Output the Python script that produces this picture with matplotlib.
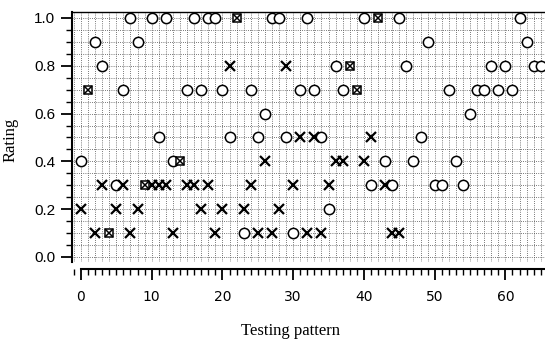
import numpy as np
import matplotlib
matplotlib.use("Agg")
import matplotlib.pyplot as plt
from matplotlib.ticker import MultipleLocator

# ratings: open circles (patterns 0-65), crosses (patterns 0-45)
circle_pattern = list(range(0, 66))
circle_rating = [0.4, 0.7, 0.9, 0.8, 0.1, 0.3, 0.7, 1.0, 0.9, 0.3,
                 1.0, 0.5, 1.0, 0.4, 0.4, 0.7, 1.0, 0.7, 1.0, 1.0,
                 0.7, 0.5, 1.0, 0.1, 0.7, 0.5, 0.6, 1.0, 1.0, 0.5,
                 0.1, 0.7, 1.0, 0.7, 0.5, 0.2, 0.8, 0.7, 0.8, 0.7,
                 1.0, 0.3, 1.0, 0.4, 0.3, 1.0, 0.8, 0.4, 0.5, 0.9,
                 0.3, 0.3, 0.7, 0.4, 0.3, 0.6, 0.7, 0.7, 0.8, 0.7,
                 0.8, 0.7, 1.0, 0.9, 0.8, 0.8]

cross_pattern = list(range(0, 46))
cross_rating = [0.2, 0.7, 0.1, 0.3, 0.1, 0.2, 0.3, 0.1, 0.2, 0.3,
                0.3, 0.3, 0.3, 0.1, 0.4, 0.3, 0.3, 0.2, 0.3, 0.1,
                0.2, 0.8, 1.0, 0.2, 0.3, 0.1, 0.4, 0.1, 0.2, 0.8,
                0.3, 0.5, 0.1, 0.5, 0.1, 0.3, 0.4, 0.4, 0.8, 0.7,
                0.4, 0.5, 1.0, 0.3, 0.1, 0.1]

circ = dict(zip(circle_pattern, circle_rating))
both = [p for p, r in zip(cross_pattern, cross_rating) if circ.get(p) == r]
co_x = [p for p in circle_pattern if p not in both]
co_y = [circ[p] for p in co_x]
cr_x = [p for p in cross_pattern if p not in both]
cr_y = [r for p, r in zip(cross_pattern, cross_rating) if p not in both]
bo_y = [circ[p] for p in both]

fig = plt.figure(figsize=(5.45, 3.41), dpi=100)
ax = fig.add_axes([72 / 545, 79 / 341, 1 - 72 / 545, 250 / 341])

ax.plot(co_x, co_y, "o", ms=7.4, mfc="white", mec="black", mew=1.1, zorder=3)
ax.plot(cr_x, cr_y, "x", ms=7, color="black", mew=1.6, zorder=3)
ax.plot(both, bo_y, "s", ms=6, mfc="white", mec="black", mew=1.1, zorder=3)
ax.plot(both, bo_y, "x", ms=5.5, color="black", mew=1.1, zorder=4)

ax.set_xlim(-1.27, 65.6)
ax.set_ylim(-0.021, 1.025)

ax.xaxis.set_major_locator(MultipleLocator(10))
ax.xaxis.set_minor_locator(MultipleLocator(1))
ax.yaxis.set_major_locator(MultipleLocator(0.2))
ax.yaxis.set_minor_locator(MultipleLocator(0.05))
ax.set_yticks(np.arange(0, 1.01, 0.2))
ax.set_yticklabels([f"{v:.1f}" for v in np.arange(0, 1.01, 0.2)])

for tl in ax.get_xticklabels() + ax.get_yticklabels():
    tl.set_fontfamily("Liberation Sans")
    tl.set_fontsize(11)

ax.tick_params(which="major", length=8, width=1.3, direction="out", pad=4)
ax.tick_params(which="minor", length=4, width=1.0, direction="out")
ax.tick_params(axis="x", which="major", pad=7)

ax.grid(which="both", color="0.3", linestyle=(0, (1, 1.6)), linewidth=0.6)
ax.set_axisbelow(True)

ax.spines["right"].set_visible(False)
ax.spines["left"].set_linewidth(1.5)
ax.spines["top"].set_linewidth(1.0)
ax.spines["bottom"].set_linewidth(1.5)
ax.spines["bottom"].set_position(("outward", 5))
ax.spines["bottom"].set_bounds(0, 65.6)

ax.set_xlabel("Testing pattern", family="Liberation Serif", fontsize=12)
ax.xaxis.set_label_coords(0.461, -0.245)
ax.set_ylabel("Rating", family="Liberation Serif", fontsize=12)
ax.yaxis.set_label_coords(-0.114, 0.49)

fig.savefig("out.png", dpi=100)
